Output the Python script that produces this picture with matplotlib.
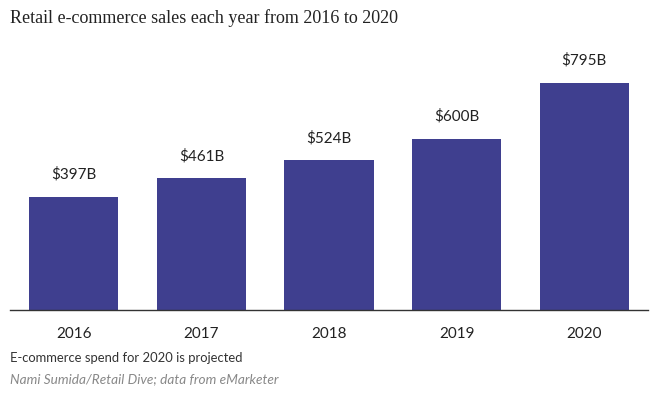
import matplotlib
matplotlib.use("Agg")
import matplotlib.pyplot as plt

years = ["2016", "2017", "2018", "2019", "2020"]
sales = [397, 461, 524, 600, 795]
labels = ["$397B", "$461B", "$524B", "$600B", "$795B"]

bar_color = "#3f3f8f"

fig = plt.figure(figsize=(6.5, 3.93), dpi=100)
ax = fig.add_axes([10 / 650, 83 / 393, 638 / 650, 250 / 393])

x = list(range(len(years)))
ax.bar(x, sales, width=0.70, color=bar_color)
for xi, v, lab in zip(x, sales, labels):
    ax.annotate(lab, (xi, v), xytext=(0, 11), textcoords="offset points",
                ha="center", va="bottom", fontsize=11, family="Lato", color="#222222")

ax.set_xlim(-0.5, 4.5)
ax.set_ylim(0, 250 / (227 / 795))
ax.set_xticks(x)
ax.set_xticklabels(years, fontsize=11, family="Lato", color="#222222")
ax.tick_params(axis="x", length=0, pad=12)
ax.set_yticks([])
for s in ["top", "right", "left"]:
    ax.spines[s].set_visible(False)
ax.spines["bottom"].set_color("#333333")
ax.spines["bottom"].set_linewidth(1)

fig.text(10 / 650, 1 - 18 / 393, "Retail e-commerce sales each year from 2016 to 2020",
         fontsize=13, family="Liberation Serif", color="#222222", va="center", ha="left")
fig.text(10 / 650, 1 - 358 / 393, "E-commerce spend for 2020 is projected",
         fontsize=9.4, family="Lato", color="#333333", va="center", ha="left")
fig.text(10 / 650, 1 - 379 / 393, "Nami Sumida/Retail Dive; data from eMarketer",
         fontsize=9.8, family="Lato", style="italic", color="#888888", va="center", ha="left")

fig.savefig("out.png", dpi=100)
